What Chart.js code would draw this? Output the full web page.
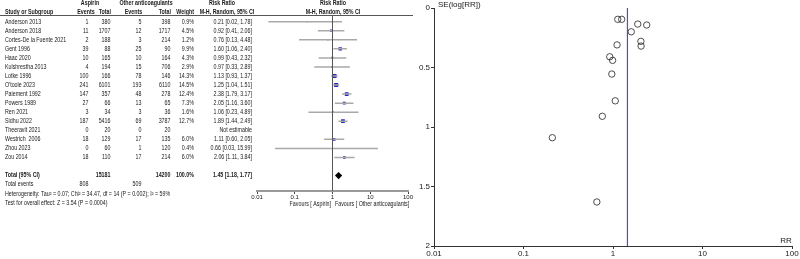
<!DOCTYPE html>
<html>
<head>
<meta charset="utf-8">
<script src="https://cdn.jsdelivr.net/npm/chart.js@4.4.0/dist/chart.umd.min.js"></script>
<style>
html, body { margin: 0; padding: 0; background: #fff; width: 800px; height: 259px; overflow: hidden; }
#forest { position: absolute; left: 0; top: 0; }
#funnel { position: absolute; left: 400px; top: 0; }
</style>
</head>
<body>
<canvas id="forest" width="440" height="259"></canvas>
<canvas id="funnel" width="400" height="259"></canvas>
<script>
// forest plot rows
var studies = ["Anderson 2013", "Anderson 2018", "Cortes-De la Fuente 2021", "Gent 1996", "Haac 2020",
  "Kulshrestha 2013", "Lotke 1996", "O'toole 2023", "Paiement 1992", "Powers 1989", "Ren 2021",
  "Sidhu 2022", "Theeravit 2021", "Westrich  2006", "Zhou 2023", "Zou 2014"];
var aspEvents = [1, 11, 2, 39, 10, 4, 100, 241, 147, 27, 3, 187, 0, 18, 0, 18];
var aspTotal = [380, 1707, 188, 88, 165, 194, 166, 6101, 357, 66, 34, 5416, 20, 129, 60, 110];
var othEvents = [5, 12, 3, 25, 10, 15, 78, 193, 48, 13, 3, 69, 0, 17, 1, 17];
var othTotal = [398, 1717, 214, 90, 164, 706, 146, 6110, 278, 65, 36, 3787, 20, 135, 120, 214];
var weights = [0.9, 4.5, 1.2, 9.9, 4.3, 2.9, 14.3, 14.5, 12.4, 7.3, 1.6, 12.7, null, 6.0, 0.4, 6.0];
var rr = [0.21, 0.92, 0.76, 1.60, 0.99, 0.97, 1.13, 1.25, 2.38, 2.05, 1.06, 1.89, null, 1.11, 0.66, 2.06];
var rrLow = [0.02, 0.41, 0.13, 1.06, 0.43, 0.33, 0.93, 1.04, 1.79, 1.16, 0.23, 1.44, null, 0.60, 0.03, 1.11];
var rrHigh = [1.78, 2.06, 4.48, 2.40, 2.32, 2.89, 1.37, 1.51, 3.17, 3.60, 4.89, 2.49, null, 2.05, 15.99, 3.84];
var pooled = [1.45, 1.18, 1.77];
var totals = [15181, 14200];
var totalEvents = [808, 509];
// funnel plot y values, SE(log[RR])
var seLogRR = [1.09, 0.41, 0.91, 0.20, 0.44, 0.555, 0.095, 0.095, 0.143, 0.28, 0.78, 0.135, null, 0.31, 1.63, 0.32];
var rrTicks = [0.01, 0.1, 1, 10, 100];
var seTicks = [0, 0.5, 1, 1.5, 2];

var FONT = "'Liberation Sans', Arial, sans-serif";
var TOTAL_ROW = 17;
var SQUEEZE = 0.76; // the table text in the picture is narrow

function fmt(v) { return v.toFixed(2); }

var forestText = {
  id: "forestText",
  afterDraw: function(chart) {
    var ctx = chart.ctx;
    var y = chart.scales.y;
    ctx.save();
    ctx.fillStyle = "#1a1a1a";
    ctx.textBaseline = "middle";
    function t(s, x, yy, align, bold) {
      ctx.save();
      ctx.font = (bold ? "bold " : "") + "7px " + FONT;
      ctx.textAlign = align || "left";
      ctx.translate(x, yy);
      ctx.scale(SQUEEZE, 1);
      ctx.fillText(s, 0, 0);
      ctx.restore();
    }
    // header
    t("Aspirin", 90, 3.5, "center", true);
    t("Other anticoagulants", 146, 3.5, "center", true);
    t("Risk Ratio", 222, 3.5, "center", true);
    t("Risk Ratio", 333, 3.5, "center", true);
    t("Study or Subgroup", 5, 12, "left", true);
    t("Events", 86, 12, "center", true);
    t("Total", 111, 12, "right", true);
    t("Events", 133.5, 12, "center", true);
    t("Total", 171, 12, "right", true);
    t("Weight", 194, 12, "right", true);
    t("M-H, Random, 95% CI", 227, 12, "center", true);
    t("M-H, Random, 95% CI", 333, 12, "center", true);
    ctx.strokeStyle = "#555";
    ctx.lineWidth = 1;
    ctx.beginPath();
    ctx.moveTo(0, 15.5);
    ctx.lineTo(413, 15.5);
    ctx.stroke();

    studies.forEach(function(s, i) {
      var py = y.getPixelForValue(i);
      t(s, 5, py);
      t(String(aspEvents[i]), 88.5, py, "right");
      t(String(aspTotal[i]), 110.5, py, "right");
      t(String(othEvents[i]), 141.5, py, "right");
      t(String(othTotal[i]), 170.5, py, "right");
      if (weights[i] != null) t(weights[i].toFixed(1) + "%", 194, py, "right");
      if (rr[i] != null) t(fmt(rr[i]) + " [" + fmt(rrLow[i]) + ", " + fmt(rrHigh[i]) + "]", 252, py, "right");
      else t("Not estimable", 252, py, "right");
    });

    var ty = y.getPixelForValue(TOTAL_ROW);
    t("Total (95% CI)", 5, ty, "left", true);
    t(String(totals[0]), 110.5, ty, "right", true);
    t(String(totals[1]), 170.5, ty, "right", true);
    t("100.0%", 194, ty, "right", true);
    t(fmt(pooled[0]) + " [" + fmt(pooled[1]) + ", " + fmt(pooled[2]) + "]", 252, ty, "right", true);
    t("Total events", 5, 184.3);
    t(String(totalEvents[0]), 88.5, 184.3, "right");
    t(String(totalEvents[1]), 141.5, 184.3, "right");
    t("Heterogeneity: Tau\u00b2 = 0.07; Chi\u00b2 = 34.47, df = 14 (P = 0.002); I\u00b2 = 59%", 5, 193.8);
    t("Test for overall effect: Z = 3.54 (P = 0.0004)", 5, 202.7);

    t("Favours [ Aspirin]", 331, 204.5, "right");
    t("Favours [ Other anticoagulants]", 335, 204.5, "left");
    ctx.restore();
  }
};

var ciSets = [];
studies.forEach(function(s, i) {
  if (rr[i] == null) return;
  ciSets.push({
    data: [{ x: rrLow[i], y: i }, { x: rrHigh[i], y: i }],
    showLine: true,
    borderColor: "#a9a9a9",
    borderWidth: 1.5,
    pointRadius: 0
  });
});

var squares = [];
var squareSize = [];
studies.forEach(function(s, i) {
  if (rr[i] == null) return;
  squares.push({ x: rr[i], y: i });
  squareSize.push(0.75 * Math.sqrt(weights[i]));
});

new Chart(document.getElementById("forest"), {
  type: "scatter",
  data: {
    datasets: [
      {
        data: [{ x: 1, y: -0.685 }, { x: 1, y: 18.71 }],
        showLine: true,
        borderColor: "#555",
        borderWidth: 1,
        pointRadius: 0
      }
    ].concat(ciSets).concat([
      {
        data: squares,
        pointStyle: "rect",
        pointRadius: squareSize,
        backgroundColor: "#2626c8",
        borderColor: "#2626c8",
        borderWidth: 0
      },
      {
        data: [{ x: pooled[0], y: TOTAL_ROW }],
        pointStyle: "rectRot",
        pointRadius: 3.6,
        backgroundColor: "#000",
        borderColor: "#000",
        borderWidth: 0
      }
    ])
  },
  options: {
    responsive: false,
    animation: false,
    layout: { padding: { left: 257, right: 32, top: 15.5, bottom: 0 } },
    plugins: { legend: { display: false }, tooltip: { enabled: false } },
    scales: {
      x: {
        type: "logarithmic",
        min: 0.01,
        max: 100,
        afterBuildTicks: function(s) { s.ticks = rrTicks.map(function(v) { return { value: v }; }); },
        afterFit: function(s) { s.height = 68; },
        ticks: {
          callback: function(v) { return String(v); },
          font: { size: 6, family: FONT },
          color: "#1a1a1a",
          maxRotation: 0,
          autoSkip: false,
          padding: 0
        },
        grid: { drawOnChartArea: false, tickLength: 3, color: "#444" },
        border: { color: "#9a9a9a", width: 2 }
      },
      y: {
        type: "linear",
        reverse: true,
        min: -0.685,
        max: 18.71,
        display: false
      }
    }
  },
  plugins: [forestText]
});

var funnelText = {
  id: "funnelText",
  afterDraw: function(chart) {
    var ctx = chart.ctx;
    ctx.save();
    ctx.fillStyle = "#1a1a1a";
    ctx.font = "8px " + FONT;
    ctx.textBaseline = "middle";
    ctx.textAlign = "left";
    ctx.fillText("SE(log[RR])", 38, 5);
    ctx.textAlign = "center";
    ctx.fillText("RR", 386, 241);
    ctx.restore();
  }
};

var funnelPts = [];
studies.forEach(function(s, i) {
  if (rr[i] == null) return;
  funnelPts.push({ x: rr[i], y: seLogRR[i] });
});

new Chart(document.getElementById("funnel"), {
  type: "scatter",
  data: {
    datasets: [
      {
        data: [{ x: pooled[0], y: 0 }, { x: pooled[0], y: 2 }],
        showLine: true,
        borderColor: "#4b4be0",
        borderWidth: 1.2,
        pointRadius: 0
      },
      {
        data: funnelPts,
        pointStyle: "circle",
        pointRadius: 3.2,
        borderColor: "#222",
        borderWidth: 0.8,
        backgroundColor: "rgba(0,0,0,0)"
      }
    ]
  },
  options: {
    responsive: false,
    animation: false,
    layout: { padding: { left: 0, right: 8, top: 8, bottom: 0 } },
    plugins: { legend: { display: false }, tooltip: { enabled: false } },
    scales: {
      x: {
        type: "logarithmic",
        min: 0.01,
        max: 100,
        afterBuildTicks: function(s) { s.ticks = rrTicks.map(function(v) { return { value: v }; }); },
        afterFit: function(s) { s.height = 13; },
        ticks: {
          callback: function(v) { return String(v); },
          font: { size: 8, family: FONT },
          color: "#1a1a1a",
          maxRotation: 0,
          autoSkip: false,
          padding: 0
        },
        grid: { drawOnChartArea: false, tickLength: 3, color: "#333" },
        border: { color: "#333", width: 1 }
      },
      y: {
        type: "linear",
        reverse: true,
        min: 0,
        max: 2,
        afterBuildTicks: function(s) { s.ticks = seTicks.map(function(v) { return { value: v }; }); },
        afterFit: function(s) { s.width = 34; },
        ticks: {
          callback: function(v) { return String(v); },
          font: { size: 8, family: FONT },
          color: "#1a1a1a",
          padding: 1
        },
        grid: { drawOnChartArea: false, tickLength: 3, color: "#333" },
        border: { color: "#333", width: 1 }
      }
    }
  },
  plugins: [funnelText]
});
</script>
</body>
</html>
